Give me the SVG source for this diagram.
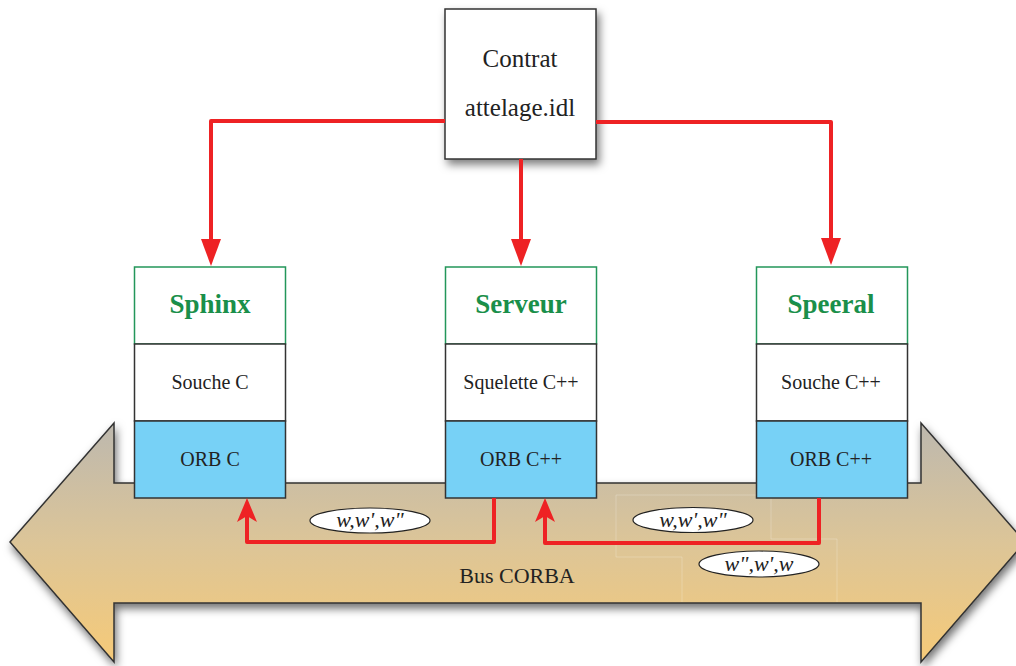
<svg xmlns="http://www.w3.org/2000/svg" width="1016" height="666" viewBox="0 0 1016 666">
<defs>
<linearGradient id="busGrad" x1="0" y1="423" x2="0" y2="662" gradientUnits="userSpaceOnUse">
<stop offset="0" stop-color="#bdb8ae"/>
<stop offset="0.5" stop-color="#dcc598"/>
<stop offset="1" stop-color="#f6ca78"/>
</linearGradient>
<filter id="shadow" x="-10%" y="-10%" width="130%" height="140%">
<feDropShadow dx="2" dy="5" stdDeviation="4" flood-color="#000" flood-opacity="0.55"/>
</filter>
<filter id="boxShadow" x="-20%" y="-20%" width="150%" height="150%">
<feDropShadow dx="3" dy="5" stdDeviation="4" flood-color="#000" flood-opacity="0.5"/>
</filter>
<marker id="arrow" markerUnits="userSpaceOnUse" markerWidth="28" markerHeight="22" refX="17" refY="10" orient="auto">
<path d="M0,0 L27,10 L0,20 Z" fill="#ee2224"/>
</marker>
<marker id="arrowSmall" markerUnits="userSpaceOnUse" markerWidth="26" markerHeight="22" refX="14" refY="10" orient="auto">
<path d="M0,0 L24,10 L0,20 L6,10 Z" fill="#ee2224"/>
</marker>
</defs>
<style>
.txt{font-family:"Liberation Serif","Times New Roman",serif;fill:#222;text-anchor:middle}
.lbl{font-size:20px}
.title{font-size:27px;font-weight:bold;fill:#1a8f4a}
.head{fill:#fff;stroke:#23965a;stroke-width:1.5}
.mid{fill:#fff;stroke:#333;stroke-width:1.5}
.orb{fill:#77d1f6;stroke:#333;stroke-width:1.5}
.conn{fill:none;stroke:#ee2224;stroke-width:4;stroke-linejoin:round}
.ell{fill:#fff;stroke:#222;stroke-width:1.2}
.wl{font-size:22px;font-style:italic}
.faint{fill:none;stroke:#fff;stroke-opacity:0.22;stroke-width:1}
</style>

<g id="bus">
<path d="M10,542 L114,423 L114,483 L921,483 L921,423 L1025,542 L921,662 L921,603 L114,603 L114,662 Z" fill="url(#busGrad)" stroke="#333" stroke-width="1.5" filter="url(#shadow)"/>
<path class="faint" d="M616,557 L616,495 L771,495 L771,539 L837,539 L837,602 M616,557 L682,557 L682,602"/>
<text class="txt" x="517" y="583" font-size="22">Bus CORBA</text>
</g>

<g id="contrat">
<rect x="445" y="9" width="151" height="150" fill="#fff" stroke="#333" stroke-width="1.5" filter="url(#boxShadow)"/>
<text class="txt" x="520" y="67" font-size="25">Contrat</text>
<text class="txt" x="520" y="116" font-size="25">attelage.idl</text>
</g>

<g id="sphinx">
<rect class="head" x="134.5" y="267" width="151" height="77"/>
<rect class="mid" x="134.5" y="344" width="151" height="77"/>
<rect class="orb" x="134.5" y="421" width="151" height="77"/>
<text class="txt title" x="210" y="313">Sphinx</text>
<text class="txt lbl" x="210" y="389">Souche C</text>
<text class="txt lbl" x="210" y="466">ORB C</text>
</g>

<g id="serveur">
<rect class="head" x="445.5" y="267" width="151" height="77"/>
<rect class="mid" x="445.5" y="344" width="151" height="77"/>
<rect class="orb" x="445.5" y="421" width="151" height="77"/>
<text class="txt title" x="521" y="313">Serveur</text>
<text class="txt lbl" x="521" y="389">Squelette C++</text>
<text class="txt lbl" x="521" y="466">ORB C++</text>
</g>

<g id="speeral">
<rect class="head" x="756.5" y="267" width="151" height="77"/>
<rect class="mid" x="756.5" y="344" width="151" height="77"/>
<rect class="orb" x="756.5" y="421" width="151" height="77"/>
<text class="txt title" x="831" y="313">Speeral</text>
<text class="txt lbl" x="831" y="389">Souche C++</text>
<text class="txt lbl" x="831" y="466">ORB C++</text>
</g>

<g id="connectors">
<path class="conn" d="M445,121 L211,121 L211,256" marker-end="url(#arrow)"/>
<path class="conn" d="M521,159 L521,256" marker-end="url(#arrow)"/>
<path class="conn" d="M596,122 L831,122 L831,255" marker-end="url(#arrow)"/>
<path class="conn" d="M494,498 L494,542 L247,542 L247,508" marker-end="url(#arrowSmall)"/>
<path class="conn" d="M819,498 L819,543 L545,543 L545,508" marker-end="url(#arrowSmall)"/>
</g>

<g id="labels">
<ellipse class="ell" cx="370" cy="520.5" rx="60" ry="12.5"/>
<text class="txt wl" x="370" y="527">w,w',w"</text>
<ellipse class="ell" cx="693" cy="520" rx="60" ry="12.5"/>
<text class="txt wl" x="693" y="527">w,w',w"</text>
<ellipse class="ell" cx="759" cy="564" rx="60" ry="13"/>
<text class="txt wl" x="759" y="571">w",w',w</text>
</g>
</svg>
